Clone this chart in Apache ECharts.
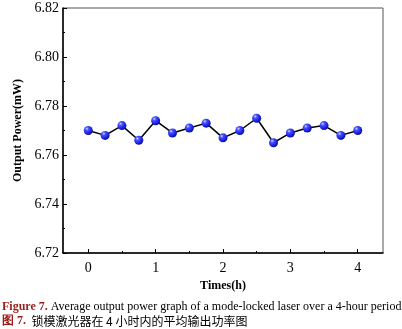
<!DOCTYPE html>
<html>
<head>
<meta charset="utf-8">
<script src="https://cdn.jsdelivr.net/npm/echarts@6/dist/echarts.min.js"></script>
<style>
  html, body { margin: 0; padding: 0; background: #fff; }
  #chart { width: 402px; height: 329px; }
</style>
</head>
<body>
<div id="chart"></div>
<script>
// Elapsed time (hours) and average output power (mW)
const times = [0, 0.25, 0.5, 0.75, 1, 1.25, 1.5, 1.75, 2, 2.25, 2.5, 2.75, 3, 3.25, 3.5, 3.75, 4];
const power = [6.770, 6.768, 6.772, 6.766, 6.774, 6.769, 6.771, 6.773, 6.767, 6.770, 6.775, 6.765, 6.769, 6.771, 6.772, 6.768, 6.770];
const xMajorTicks = [0, 1, 2, 3, 4];
const xMinorTicks = [0.5, 1.5, 2.5, 3.5];

const serif = '"Liberation Serif", "DejaVu Serif", serif';
const chart = echarts.init(document.getElementById('chart'));

// glossy blue sphere for each sample
const sphere = new echarts.graphic.RadialGradient(0.35, 0.3, 0.75, [
  { offset: 0, color: '#d8dcff' },
  { offset: 0.25, color: '#4a55ff' },
  { offset: 0.7, color: '#1a1fe0' },
  { offset: 1, color: '#0a0c8a' }
]);

chart.setOption({
  animation: false,
  grid: {
    left: 63, right: 19, top: 8, bottom: 76,
    show: true, borderColor: '#555', borderWidth: 1
  },
  xAxis: [{
    type: 'value', min: -0.375, max: 4.375,
    name: 'Times(h)', nameLocation: 'middle', nameGap: 27,
    nameTextStyle: { fontFamily: serif, fontWeight: 'bold', fontSize: 12, color: '#000' },
    axisLine: { onZero: false, lineStyle: { color: '#000', width: 1.5 } },
    axisTick: { inside: true, length: 4, customValues: xMajorTicks, lineStyle: { color: '#000' } },
    axisLabel: { customValues: xMajorTicks, fontFamily: serif, fontSize: 14, color: '#000', margin: 8 },
    splitLine: { show: false }
  }, {
    type: 'value', min: -0.375, max: 4.375, position: 'bottom',
    axisLine: { show: false, onZero: false },
    axisTick: { inside: true, length: 2, customValues: xMinorTicks, lineStyle: { color: '#000' } },
    axisLabel: { show: false },
    splitLine: { show: false }
  }],
  yAxis: {
    type: 'value', min: 6.72, max: 6.82, interval: 0.02,
    name: 'Output Power(mW)', nameLocation: 'middle', nameGap: 37,
    nameTextStyle: { fontFamily: serif, fontWeight: 'bold', fontSize: 12, color: '#000' },
    axisLine: { show: true, onZero: false, lineStyle: { color: '#000', width: 1.5 } },
    axisTick: { inside: true, length: 4, lineStyle: { color: '#000' } },
    minorTick: { show: true, splitNumber: 2, length: 2, lineStyle: { color: '#000' } },
    axisLabel: {
      fontFamily: serif, fontSize: 14, color: '#000', margin: 4,
      formatter: v => v.toFixed(2)
    },
    splitLine: { show: false }
  },
  series: [{
    type: 'line',
    data: times.map((t, i) => [t, power[i]]),
    symbol: 'circle', symbolSize: 9,
    lineStyle: { color: '#000', width: 1.5 },
    itemStyle: { color: sphere, borderWidth: 0 }
  }],
  graphic: [{
    type: 'text', left: 2, top: 301,
    style: {
      text: '{r|Figure 7.} Average output power graph of a mode-locked laser over a 4-hour period',
      font: '12px ' + serif, fill: '#000',
      rich: { r: { fill: '#9b1c1c', fontFamily: serif, fontSize: 12, fontWeight: 'bold' } }
    }
  }, {
    type: 'text', left: 2, top: 315,
    style: {
      text: '{r|图 7.}  锁模激光器在 4 小时内的平均输出功率图',
      font: '12px "Noto Sans CJK SC", sans-serif', fill: '#000',
      rich: { r: { fill: '#9b1c1c', fontFamily: serif, fontSize: 12, fontWeight: 'bold' } }
    }
  }]
});
</script>
</body>
</html>
